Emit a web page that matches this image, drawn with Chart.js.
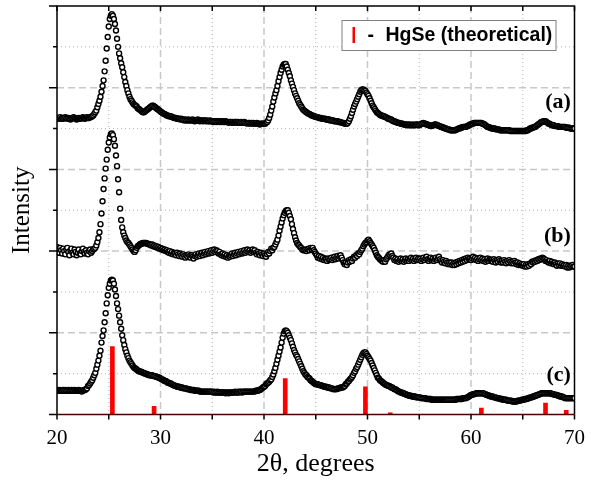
<!DOCTYPE html>
<html>
<head>
<meta charset="utf-8">
<script src="https://cdn.jsdelivr.net/npm/chart.js@4.4.1/dist/chart.umd.min.js"></script>
<style>
  html, body { margin: 0; padding: 0; background: #fff; }
</style>
</head>
<body>
<canvas id="xrdChart" width="596" height="481"></canvas>
<script>
// 2-theta grid: 20.0 .. 70.0 in 0.1 degree steps
const X_START = 20;
const X_STEP = 0.1;

// Pattern (a) - one row per degree (x.0 .. x.9), offset stacked on top
const seriesA = [
  3.63,3.62,3.63,3.64,3.62,3.63,3.62,3.63,3.64,3.63, // 20
  3.62,3.63,3.62,3.61,3.62,3.63,3.64,3.63,3.62,3.61, // 21
  3.62,3.63,3.62,3.62,3.63,3.64,3.63,3.62,3.63,3.64, // 22
  3.63,3.63,3.64,3.64,3.65,3.66,3.68,3.70,3.72,3.76, // 23
  3.80,3.84,3.89,3.95,4.02,4.09,4.20,4.33,4.48,4.62, // 24
  4.75,4.84,4.88,4.90,4.88,4.84,4.78,4.70,4.60,4.50, // 25
  4.42,4.36,4.30,4.25,4.19,4.13,4.07,4.02,3.97,3.93, // 26
  3.89,3.86,3.84,3.82,3.80,3.79,3.78,3.77,3.75,3.74, // 27
  3.73,3.72,3.71,3.70,3.70,3.71,3.72,3.73,3.74,3.75, // 28
  3.76,3.77,3.78,3.78,3.77,3.76,3.75,3.74,3.73,3.72, // 29
  3.71,3.70,3.69,3.68,3.68,3.67,3.66,3.66,3.65,3.65, // 30
  3.65,3.64,3.64,3.63,3.63,3.63,3.62,3.62,3.62,3.61, // 31
  3.62,3.61,3.61,3.60,3.61,3.60,3.60,3.61,3.60,3.60, // 32
  3.60,3.61,3.60,3.59,3.60,3.60,3.61,3.60,3.59,3.60, // 33
  3.60,3.59,3.60,3.60,3.59,3.60,3.59,3.59,3.60,3.59, // 34
  3.59,3.58,3.59,3.59,3.58,3.59,3.59,3.58,3.59,3.58, // 35
  3.59,3.58,3.58,3.59,3.58,3.58,3.57,3.58,3.58,3.57, // 36
  3.58,3.57,3.58,3.58,3.57,3.58,3.57,3.57,3.58,3.57, // 37
  3.57,3.58,3.57,3.57,3.56,3.57,3.57,3.56,3.57,3.56, // 38
  3.57,3.56,3.56,3.57,3.56,3.56,3.55,3.56,3.56,3.56, // 39
  3.56,3.56,3.57,3.58,3.60,3.63,3.67,3.72,3.77,3.83, // 40
  3.88,3.93,3.97,4.02,4.08,4.13,4.18,4.22,4.26,4.28, // 41
  4.29,4.29,4.26,4.22,4.18,4.14,4.09,4.05,4.01,3.97, // 42
  3.93,3.90,3.87,3.84,3.81,3.79,3.77,3.75,3.73,3.72, // 43
  3.71,3.70,3.69,3.68,3.68,3.67,3.66,3.66,3.65,3.65, // 44
  3.64,3.64,3.64,3.63,3.63,3.63,3.62,3.62,3.62,3.62, // 45
  3.61,3.61,3.61,3.61,3.60,3.60,3.60,3.60,3.59,3.59, // 46
  3.59,3.59,3.58,3.58,3.58,3.57,3.57,3.57,3.56,3.56, // 47
  3.56,3.57,3.59,3.62,3.65,3.69,3.73,3.77,3.80,3.83, // 48
  3.86,3.89,3.92,3.95,3.97,3.98,3.98,3.97,3.96,3.94, // 49
  3.92,3.90,3.87,3.84,3.81,3.78,3.76,3.74,3.72,3.70, // 50
  3.69,3.68,3.67,3.66,3.66,3.65,3.65,3.64,3.64,3.63, // 51
  3.62,3.62,3.61,3.61,3.60,3.59,3.59,3.58,3.58,3.57, // 52
  3.57,3.57,3.56,3.56,3.56,3.55,3.55,3.55,3.54,3.55, // 53
  3.54,3.55,3.54,3.54,3.55,3.54,3.54,3.55,3.55,3.54, // 54
  3.54,3.55,3.56,3.56,3.57,3.56,3.56,3.55,3.55,3.54, // 55
  3.54,3.53,3.53,3.54,3.54,3.55,3.55,3.54,3.54,3.53, // 56
  3.53,3.52,3.52,3.51,3.51,3.50,3.50,3.49,3.49,3.49, // 57
  3.48,3.48,3.48,3.48,3.48,3.48,3.49,3.49,3.50,3.50, // 58
  3.51,3.51,3.52,3.52,3.52,3.52,3.53,3.53,3.54,3.55, // 59
  3.55,3.56,3.56,3.57,3.57,3.57,3.57,3.57,3.57,3.57, // 60
  3.57,3.56,3.56,3.55,3.54,3.53,3.52,3.52,3.51,3.51, // 61
  3.50,3.50,3.50,3.50,3.49,3.49,3.49,3.49,3.48,3.48, // 62
  3.48,3.48,3.48,3.48,3.48,3.48,3.48,3.48,3.47,3.47, // 63
  3.47,3.47,3.47,3.47,3.47,3.47,3.47,3.47,3.47,3.47, // 64
  3.47,3.47,3.47,3.47,3.48,3.48,3.49,3.50,3.50,3.51, // 65
  3.51,3.52,3.52,3.53,3.54,3.55,3.56,3.57,3.58,3.58, // 66
  3.59,3.59,3.59,3.58,3.57,3.56,3.56,3.55,3.54,3.54, // 67
  3.54,3.53,3.53,3.53,3.53,3.52,3.52,3.52,3.52,3.52, // 68
  3.52,3.52,3.51,3.51,3.51,3.51,3.50,3.50,3.50,3.50, // 69
  3.50                                                // 70
];

// Pattern (b) - noisy, middle of the stack
const seriesB = [
  2.05,2.02,1.98,2.04,2.01,1.97,2.03,2.00,1.96,2.02, // 20
  2.04,1.99,1.95,2.01,2.03,1.98,1.96,2.02,1.99,1.95, // 21
  1.98,2.02,1.97,1.96,2.00,2.03,1.99,1.97,2.01,1.98, // 22
  1.96,2.00,2.02,1.98,2.00,2.02,2.03,2.04,2.07,2.11, // 23
  2.16,2.23,2.33,2.46,2.61,2.76,2.89,3.01,3.12,3.24, // 24
  3.33,3.39,3.43,3.44,3.42,3.37,3.29,3.17,3.04,2.88, // 25
  2.72,2.52,2.38,2.29,2.23,2.19,2.16,2.13,2.11,2.10, // 26
  2.08,2.06,2.04,2.02,2.00,1.99,2.01,2.04,2.06,2.07, // 27
  2.08,2.09,2.09,2.10,2.10,2.10,2.10,2.09,2.09,2.08, // 28
  2.08,2.07,2.08,2.06,2.07,2.05,2.06,2.04,2.05,2.03, // 29
  2.04,2.02,2.03,2.01,2.02,2.00,2.01,1.99,1.98,2.00, // 30
  1.97,1.99,1.96,1.98,1.97,1.95,1.98,1.96,1.94,1.97, // 31
  1.95,1.93,1.96,1.94,1.92,1.95,1.93,1.96,1.94,1.92, // 32
  1.95,1.93,1.91,1.94,1.96,1.93,1.95,1.97,1.94,1.96, // 33
  1.98,1.95,1.97,1.99,1.96,1.98,2.00,1.97,1.99,2.01, // 34
  1.98,2.00,2.02,1.99,2.01,2.00,1.97,1.99,1.96,1.95, // 35
  1.97,1.94,1.96,1.93,1.95,1.92,1.94,1.93,1.95,1.97, // 36
  1.94,1.96,1.98,1.95,1.97,1.99,1.96,1.98,2.00,1.97, // 37
  1.99,2.01,1.98,2.00,2.02,1.99,2.01,1.98,2.00,2.02, // 38
  1.99,2.01,1.98,1.96,1.99,1.97,1.95,1.98,1.96,1.94, // 39
  1.97,1.95,1.93,1.96,1.99,1.97,2.00,2.03,2.01,2.04, // 40
  2.05,2.08,2.11,2.14,2.19,2.25,2.30,2.35,2.40,2.44, // 41
  2.47,2.49,2.50,2.50,2.47,2.43,2.39,2.33,2.27,2.22, // 42
  2.17,2.13,2.10,2.08,2.07,2.05,2.04,2.02,2.01,2.01, // 43
  2.02,2.00,2.02,2.03,2.01,2.04,2.02,2.04,2.01,1.99, // 44
  1.97,1.95,1.92,1.94,1.91,1.93,1.90,1.92,1.89,1.91, // 45
  1.90,1.88,1.91,1.89,1.90,1.92,1.89,1.91,1.93,1.90, // 46
  1.92,1.94,1.91,1.93,1.95,1.92,1.89,1.86,1.84,1.86, // 47
  1.83,1.86,1.89,1.87,1.90,1.88,1.91,1.93,1.92,1.95, // 48
  1.94,1.97,1.96,1.99,2.01,2.03,2.06,2.08,2.10,2.11, // 49
  2.13,2.14,2.12,2.10,2.08,2.06,2.04,2.01,1.98,1.95, // 50
  1.93,1.92,1.90,1.89,1.88,1.87,1.89,1.87,1.90,1.92, // 51
  1.94,1.96,1.95,1.97,1.94,1.92,1.89,1.91,1.88,1.90, // 52
  1.87,1.89,1.91,1.88,1.90,1.87,1.89,1.91,1.88,1.90, // 53
  1.88,1.90,1.92,1.89,1.91,1.88,1.90,1.92,1.89,1.91, // 54
  1.89,1.91,1.88,1.90,1.92,1.89,1.91,1.93,1.90,1.88, // 55
  1.90,1.92,1.89,1.91,1.88,1.90,1.92,1.89,1.91,1.93, // 56
  1.90,1.88,1.86,1.89,1.87,1.85,1.88,1.86,1.84,1.86, // 57
  1.84,1.86,1.83,1.85,1.83,1.86,1.84,1.87,1.85,1.88, // 58
  1.86,1.89,1.87,1.90,1.88,1.91,1.89,1.92,1.90,1.91, // 59
  1.89,1.91,1.93,1.90,1.92,1.89,1.91,1.88,1.90,1.92, // 60
  1.89,1.91,1.88,1.90,1.87,1.89,1.91,1.88,1.90,1.89, // 61
  1.89,1.87,1.90,1.88,1.86,1.89,1.87,1.90,1.88,1.86, // 62
  1.88,1.86,1.89,1.87,1.85,1.88,1.86,1.89,1.87,1.85, // 63
  1.87,1.85,1.88,1.86,1.84,1.86,1.83,1.85,1.83,1.84, // 64
  1.82,1.84,1.81,1.83,1.81,1.84,1.82,1.85,1.84,1.87, // 65
  1.86,1.88,1.87,1.89,1.88,1.90,1.89,1.91,1.90,1.92, // 66
  1.91,1.90,1.88,1.89,1.87,1.86,1.88,1.85,1.87,1.85, // 67
  1.84,1.86,1.84,1.82,1.85,1.83,1.85,1.82,1.84,1.82, // 68
  1.83,1.81,1.83,1.80,1.82,1.80,1.82,1.81,1.83,1.81, // 69
  1.81                                                // 70
];

// Pattern (c) - bottom of the stack
const seriesC = [
  0.29,0.30,0.29,0.30,0.29,0.29,0.30,0.29,0.30,0.29, // 20
  0.29,0.30,0.29,0.29,0.30,0.29,0.29,0.30,0.29,0.29, // 21
  0.29,0.30,0.29,0.29,0.28,0.29,0.30,0.30,0.31,0.32, // 22
  0.35,0.36,0.38,0.40,0.42,0.45,0.48,0.51,0.56,0.61, // 23
  0.66,0.72,0.78,0.88,0.96,1.03,1.13,1.24,1.36,1.46, // 24
  1.55,1.60,1.64,1.65,1.64,1.60,1.53,1.45,1.36,1.29, // 25
  1.21,1.13,1.05,0.97,0.91,0.85,0.80,0.76,0.72,0.69, // 26
  0.66,0.64,0.62,0.60,0.58,0.57,0.56,0.55,0.54,0.53, // 27
  0.53,0.52,0.52,0.51,0.51,0.50,0.50,0.49,0.49,0.48, // 28
  0.48,0.48,0.48,0.47,0.47,0.47,0.46,0.46,0.45,0.45, // 29
  0.44,0.43,0.43,0.42,0.41,0.41,0.40,0.39,0.39,0.38, // 30
  0.38,0.37,0.36,0.36,0.35,0.35,0.34,0.34,0.34,0.33, // 31
  0.33,0.33,0.32,0.32,0.32,0.32,0.31,0.31,0.31,0.30, // 32
  0.30,0.30,0.30,0.29,0.29,0.29,0.29,0.29,0.28,0.28, // 33
  0.28,0.28,0.28,0.28,0.28,0.28,0.28,0.28,0.28,0.28, // 34
  0.28,0.27,0.28,0.27,0.27,0.28,0.27,0.27,0.27,0.27, // 35
  0.27,0.27,0.27,0.26,0.27,0.27,0.26,0.27,0.27,0.27, // 36
  0.27,0.27,0.28,0.27,0.27,0.28,0.27,0.28,0.28,0.27, // 37
  0.28,0.28,0.28,0.28,0.28,0.28,0.28,0.28,0.28,0.28, // 38
  0.28,0.28,0.29,0.29,0.29,0.30,0.30,0.31,0.32,0.33, // 39
  0.34,0.35,0.37,0.38,0.39,0.40,0.42,0.43,0.46,0.49, // 40
  0.53,0.57,0.62,0.67,0.72,0.77,0.82,0.88,0.94,0.99, // 41
  1.02,1.03,1.02,1.00,0.97,0.94,0.91,0.87,0.83,0.79, // 42
  0.76,0.73,0.71,0.68,0.65,0.62,0.59,0.56,0.53,0.51, // 43
  0.49,0.48,0.46,0.45,0.44,0.42,0.41,0.40,0.39,0.38, // 44
  0.37,0.37,0.37,0.36,0.36,0.36,0.35,0.35,0.34,0.34, // 45
  0.34,0.33,0.33,0.33,0.32,0.32,0.32,0.31,0.31,0.31, // 46
  0.31,0.32,0.32,0.32,0.33,0.33,0.33,0.34,0.35,0.37, // 47
  0.38,0.40,0.41,0.43,0.44,0.46,0.48,0.51,0.53,0.56, // 48
  0.58,0.61,0.64,0.67,0.70,0.73,0.75,0.76,0.76,0.74, // 49
  0.72,0.70,0.68,0.66,0.63,0.60,0.57,0.54,0.51,0.48, // 50
  0.45,0.44,0.42,0.41,0.40,0.39,0.38,0.37,0.36,0.36, // 51
  0.35,0.35,0.34,0.33,0.33,0.32,0.31,0.31,0.30,0.29, // 52
  0.28,0.28,0.27,0.27,0.26,0.26,0.25,0.25,0.24,0.24, // 53
  0.23,0.23,0.23,0.22,0.22,0.22,0.22,0.21,0.21,0.21, // 54
  0.21,0.21,0.20,0.20,0.20,0.20,0.20,0.19,0.19,0.19, // 55
  0.19,0.19,0.18,0.18,0.18,0.18,0.18,0.18,0.18,0.18, // 56
  0.18,0.18,0.18,0.18,0.18,0.18,0.18,0.18,0.18,0.18, // 57
  0.18,0.18,0.18,0.18,0.18,0.18,0.19,0.19,0.19,0.19, // 58
  0.19,0.19,0.20,0.20,0.20,0.20,0.21,0.21,0.22,0.23, // 59
  0.24,0.24,0.25,0.25,0.25,0.26,0.26,0.26,0.26,0.26, // 60
  0.26,0.26,0.26,0.25,0.25,0.24,0.24,0.23,0.23,0.22, // 61
  0.22,0.22,0.21,0.21,0.21,0.20,0.20,0.20,0.19,0.19, // 62
  0.19,0.18,0.18,0.18,0.18,0.17,0.17,0.17,0.17,0.17, // 63
  0.16,0.16,0.16,0.16,0.16,0.17,0.17,0.17,0.17,0.18, // 64
  0.18,0.18,0.19,0.19,0.19,0.20,0.20,0.21,0.21,0.21, // 65
  0.22,0.22,0.23,0.23,0.24,0.24,0.25,0.25,0.26,0.26, // 66
  0.26,0.26,0.26,0.26,0.26,0.26,0.26,0.26,0.25,0.25, // 67
  0.25,0.24,0.24,0.24,0.23,0.23,0.22,0.22,0.22,0.21, // 68
  0.21,0.20,0.20,0.20,0.20,0.20,0.20,0.20,0.20,0.20, // 69
  0.20                                                // 70
];

// HgSe reference lines (theoretical)
const hgsePositions = [25.35, 29.38, 42.05, 49.8, 52.2, 61.0, 67.2, 69.2];
const hgseHeights   = [0.83, 0.10, 0.44, 0.34, 0.02, 0.08, 0.14, 0.05];

// axis ticks
const xMajorTicks = [20, 30, 40, 50, 60, 70];
const xMinorTicks = [25, 35, 45, 55, 65];
const yMajorTicks = [0, 1, 2, 3, 4, 5];
const yMinorTicks = [0.5, 1.5, 2.5, 3.5, 4.5];

const seriesTags = ['(a)', '(b)', '(c)'];
const legendText = 'HgSe (theoretical)';

const twoTheta = seriesA.map((_, i) => +(X_START + i * X_STEP).toFixed(1));
const toPoints = ys => ys.map((y, i) => ({ x: twoTheta[i], y: y }));

const SERIF = '"Liberation Serif", "Times New Roman", serif';
const SANS = '"Liberation Sans", Arial, sans-serif';

const circleStyle = {
    showLine: false,
    pointStyle: 'circle',
    pointRadius: 2.5,
    pointBorderWidth: 1.4,
    pointBorderColor: '#000',
    pointBackgroundColor: '#fff'
};

// grid lines behind the data, frame + ticks + labels on top
const xrdDecor = {
    id: 'xrdDecor',
    beforeDatasetsDraw(chart) {
        const { ctx, chartArea: a, scales: { x, y } } = chart;
        ctx.save();
        const vline = (px, dash, width, color) => {
            ctx.beginPath(); ctx.setLineDash(dash); ctx.lineWidth = width; ctx.strokeStyle = color;
            ctx.moveTo(px, a.top); ctx.lineTo(px, a.bottom); ctx.stroke();
        };
        const hline = (py, dash, width, color) => {
            ctx.beginPath(); ctx.setLineDash(dash); ctx.lineWidth = width; ctx.strokeStyle = color;
            ctx.moveTo(a.left, py); ctx.lineTo(a.right, py); ctx.stroke();
        };
        xMinorTicks.forEach(v => vline(x.getPixelForValue(v), [1, 3], 1, '#b4b4b4'));
        yMinorTicks.forEach(v => hline(y.getPixelForValue(v), [1, 3], 1, '#b4b4b4'));
        xMajorTicks.slice(1, -1).forEach(v => vline(x.getPixelForValue(v), [7, 4], 1.5, '#c8c8c8'));
        yMajorTicks.slice(1, -1).forEach(v => hline(y.getPixelForValue(v), [7, 4], 1.5, '#c8c8c8'));
        ctx.restore();
    },
    afterDatasetsDraw(chart) {
        const { ctx, chartArea: a, scales: { x, y } } = chart;
        ctx.save();
        ctx.setLineDash([]);
        ctx.lineCap = 'butt';

        // frame
        ctx.strokeStyle = '#000';
        ctx.lineWidth = 1.5;
        ctx.beginPath();
        ctx.moveTo(a.left, a.bottom); ctx.lineTo(a.left, a.top);
        ctx.lineTo(a.right, a.top); ctx.lineTo(a.right, a.bottom);
        ctx.stroke();
        ctx.strokeStyle = '#4a0000';
        ctx.beginPath(); ctx.moveTo(a.left, a.bottom); ctx.lineTo(a.right, a.bottom); ctx.stroke();

        // ticks
        ctx.strokeStyle = '#000';
        ctx.beginPath();
        yMajorTicks.forEach(v => { const p = y.getPixelForValue(v); ctx.moveTo(a.left - 8, p); ctx.lineTo(a.left, p); });
        yMinorTicks.forEach(v => { const p = y.getPixelForValue(v); ctx.moveTo(a.left - 4, p); ctx.lineTo(a.left, p); });
        xMajorTicks.concat(xMinorTicks).forEach(v => {
            const p = x.getPixelForValue(v);
            ctx.moveTo(p, a.bottom); ctx.lineTo(p, a.bottom + 5);
            ctx.moveTo(p, a.top); ctx.lineTo(p, a.top + 5);
        });
        ctx.stroke();

        // series tags
        const tagY = [3.82, 2.18, 0.48];
        ctx.fillStyle = '#000';
        ctx.font = 'bold 22px ' + SERIF;
        ctx.textAlign = 'right';
        ctx.textBaseline = 'middle';
        seriesTags.forEach((t, i) => ctx.fillText(t, x.getPixelForValue(69.65), y.getPixelForValue(tagY[i])));

        // legend box
        const bx = a.right - 233, by = a.top + 14, bw = 214, bh = 30;
        ctx.fillStyle = '#fff';
        ctx.fillRect(bx, by, bw, bh);
        ctx.strokeStyle = '#808080';
        ctx.lineWidth = 1;
        ctx.strokeRect(bx + 0.5, by + 0.5, bw, bh);
        ctx.fillStyle = '#ff0000';
        ctx.fillRect(bx + 11, by + 7, 2.5, 16);
        ctx.fillStyle = '#000';
        ctx.font = 'bold 19.5px ' + SANS;
        ctx.textAlign = 'left';
        ctx.fillText('-', bx + 26, by + bh / 2 + 1);
        ctx.fillText(legendText, bx + 44, by + bh / 2 + 1);
        ctx.restore();
    }
};

Chart.defaults.color = '#000';

const xrdChart = new Chart(document.getElementById('xrdChart').getContext('2d'), {
    type: 'scatter',
    data: {
        datasets: [
            { label: '(a)', data: toPoints(seriesA), ...circleStyle },
            { label: '(b)', data: toPoints(seriesB), ...circleStyle },
            { label: '(c)', data: toPoints(seriesC), ...circleStyle },
            {
                type: 'bar',
                label: legendText,
                data: hgsePositions.map((p, i) => ({ x: p, y: hgseHeights[i] })),
                backgroundColor: '#ff0000',
                borderWidth: 0,
                barThickness: 4
            }
        ]
    },
    options: {
        responsive: false,
        animation: false,
        layout: { padding: { left: 0, right: 19, top: 6, bottom: 0 } },
        plugins: { legend: { display: false }, tooltip: { enabled: false } },
        scales: {
            x: {
                type: 'linear',
                min: 20,
                max: 70,
                offset: false,
                grid: { display: false, drawTicks: false, offset: false },
                border: { display: false },
                ticks: { stepSize: 10, padding: 11, font: { family: SERIF, size: 21 } },
                title: { display: true, text: '2θ, degrees', padding: { top: 0, bottom: 1 }, font: { family: SERIF, size: 26 } },
                afterFit: s => { s.height = 66.5; }
            },
            y: {
                type: 'linear',
                min: 0,
                max: 5,
                grid: { display: false, drawTicks: false },
                border: { display: false },
                ticks: { display: false },
                title: { display: true, text: 'Intensity', padding: { top: 7, bottom: 0 }, font: { family: SERIF, size: 25 } },
                afterFit: s => { s.width = 57; }
            }
        }
    },
    plugins: [xrdDecor]
});
</script>
</body>
</html>
